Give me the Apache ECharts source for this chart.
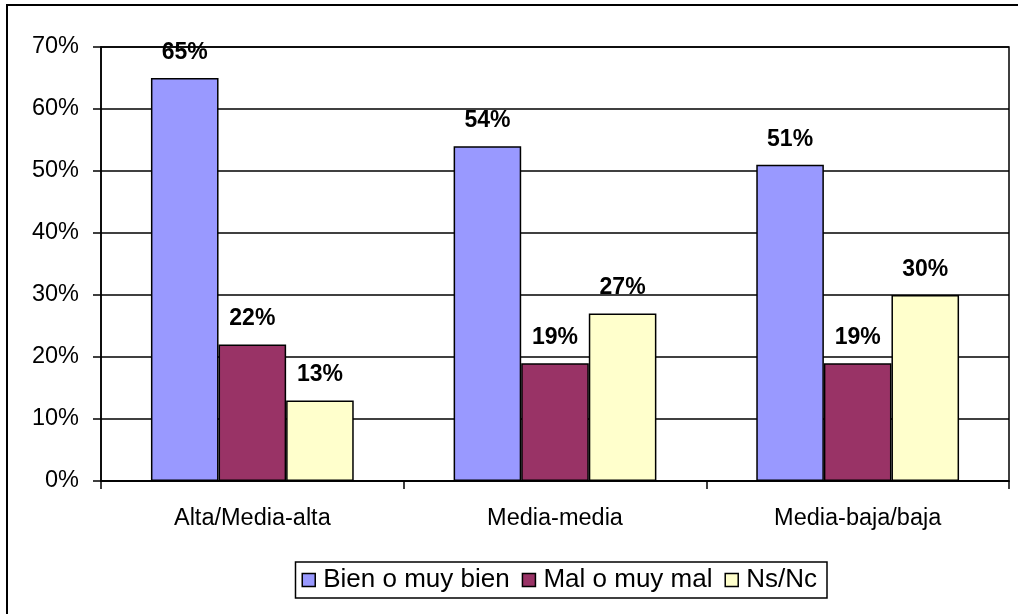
<!DOCTYPE html>
<html>
<head>
<meta charset="utf-8">
<script src="https://cdn.jsdelivr.net/npm/echarts@6/dist/echarts.min.js"></script>
<style>
html,body{margin:0;padding:0;background:#fff;}
#c{width:1018px;height:614px;}
</style>
</head>
<body>
<div id="c"></div>
<script>
const categories = ['Alta/Media-alta', 'Media-media', 'Media-baja/baja'];
const seriesNames = ['Bien o muy bien', 'Mal o muy mal', 'Ns/Nc'];
const bien = [65, 54, 51];
const mal = [22, 19, 19];
const nsnc = [13, 27, 30];
const colors = ['#9999FF', '#993366', '#FFFFCC'];

const chart = echarts.init(document.getElementById('c'), null, {renderer: 'canvas'});
const font = 'Liberation Sans, Arial, sans-serif';
const values = [bien, mal, nsnc];

chart.setOption({
  animation: false,
  backgroundColor: '#fff',
  textStyle: {fontFamily: font},
  graphic: [{
    type: 'rect',
    shape: {x: 7, y: 5, width: 1030, height: 640},
    style: {fill: 'none', stroke: '#000', lineWidth: 2},
    silent: true
  }],
  grid: {left: 101, top: 47, right: 9, bottom: 133, show: true, borderColor: '#000', borderWidth: 1.5},
  legend: {
    data: seriesNames,
    right: 191,
    top: 562,
    icon: 'rect',
    itemWidth: 13,
    itemHeight: 13,
    itemGap: 12,
    padding: [5, 10, 5, 6],
    borderColor: '#000',
    borderWidth: 1.5,
    textStyle: {fontFamily: font, fontSize: 26, color: '#000', padding: [0, 0, 0, 3]},
    itemStyle: {borderColor: '#000', borderWidth: 1.5}
  },
  xAxis: {
    type: 'category',
    data: categories,
    axisLine: {lineStyle: {color: '#000', width: 1.5}},
    axisTick: {show: true, length: 8, lineStyle: {color: '#000', width: 1.5}},
    axisLabel: {fontFamily: font, fontSize: 23.5, color: '#000', margin: 26}
  },
  yAxis: {
    type: 'value',
    min: 0, max: 70, interval: 10,
    axisLine: {show: true, lineStyle: {color: '#000', width: 1.5}},
    axisTick: {show: true, length: 8, lineStyle: {color: '#000', width: 1.5}},
    axisLabel: {fontFamily: font, fontSize: 23.5, color: '#000', formatter: '{value}%', margin: 22},
    splitLine: {lineStyle: {color: '#000', width: 1.5}}
  },
  series: seriesNames.map((n, i) => ({
    name: n,
    type: 'bar',
    data: values[i],
    barGap: '0%',
    barCategoryGap: '33%',
    itemStyle: {color: colors[i], borderColor: '#000', borderWidth: 1.5},
    label: {
      show: true, position: 'top', distance: 14,
      formatter: '{c}%',
      fontFamily: font, fontSize: 23, fontWeight: 'bold', color: '#000'
    }
  }))
});
</script>
</body>
</html>
